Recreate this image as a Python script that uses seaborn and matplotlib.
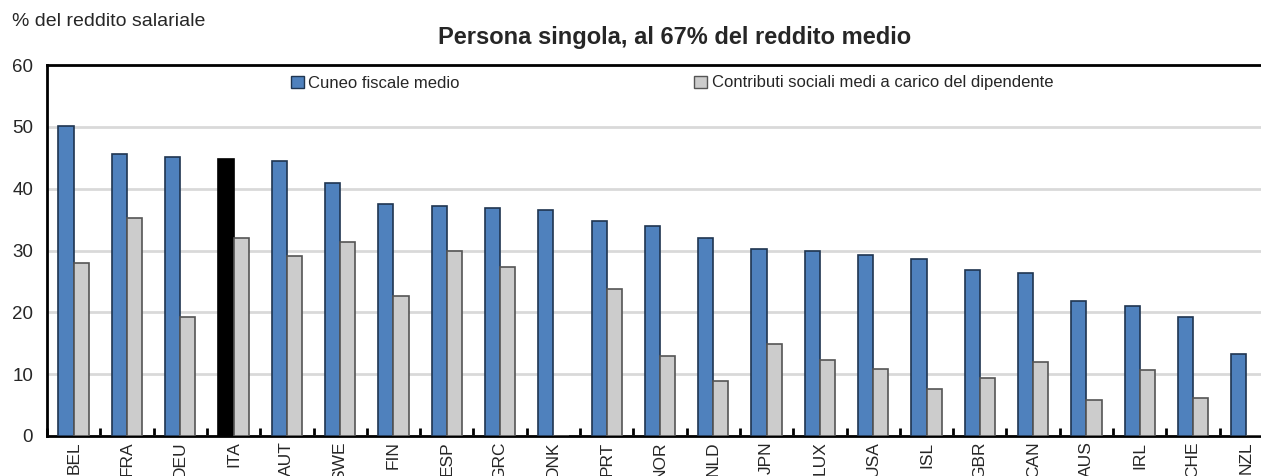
import numpy as np
import pandas as pd
import matplotlib
matplotlib.use("Agg")
import matplotlib.pyplot as plt
import matplotlib.patches as mpatches
from matplotlib.ticker import MultipleLocator
import seaborn as sns

# ── Data ──────────────────────────────────────────────────────
paesi = ["BEL", "FRA", "DEU", "ITA", "AUT", "SWE", "FIN", "ESP", "GRC", "DNK",
         "PRT", "NOR", "NLD", "JPN", "LUX", "USA", "ISL", "GBR", "CAN", "AUS",
         "IRL", "CHE", "NZL"]
cuneo = [50.2, 45.6, 45.2, 44.8, 44.5, 40.9, 37.6, 37.2, 36.8, 36.5,
         34.7, 34.0, 32.1, 30.3, 29.9, 29.2, 28.6, 26.9, 26.3, 21.8,
         21.0, 19.2, 13.2]
contributi = [28.0, 35.3, 19.2, 32.1, 29.1, 31.4, 22.7, 29.9, 27.4, 0.0,
              23.8, 13.0, 8.9, 14.8, 12.3, 10.8, 7.6, 9.4, 11.9, 5.9,
              10.6, 6.2, 0.0]
serie = ["Cuneo fiscale medio", "Contributi sociali medi a carico del dipendente"]
y_ticks = [0, 10, 20, 30, 40, 50, 60]

df = pd.DataFrame({"paese": paesi * 2,
                   "valore": cuneo + contributi,
                   "serie": [serie[0]] * len(paesi) + [serie[1]] * len(paesi)})

BLUE = "#4F81BD"
GREY = "#CCCCCC"

sns.set_style("white")
plt.rcParams["font.family"] = ["Liberation Sans Narrow", "Liberation Sans", "DejaVu Sans"]

fig = plt.figure(figsize=(12.61, 4.76), dpi=100)
ax = fig.add_axes([47 / 1261, 40 / 476, 1226 / 1261, 371 / 476])

ax.yaxis.grid(True, color="#D9D9D9", linewidth=2, zorder=0)
ax.set_axisbelow(True)

sns.barplot(data=df, x="paese", y="valore", hue="serie", order=paesi,
            hue_order=serie, palette=[BLUE, GREY], width=0.57, gap=0,
            saturation=1, legend=False, ax=ax, zorder=3)

for bar in ax.containers[0]:
    bar.set_edgecolor("#1F3550")
    bar.set_linewidth(1.2)
for bar in ax.containers[1]:
    bar.set_edgecolor("#555555")
    bar.set_linewidth(1.2)
ax.containers[0][paesi.index("ITA")].set_facecolor("black")
ax.containers[0][paesi.index("ITA")].set_edgecolor("black")

ax.set_xlim(-0.5, len(paesi) - 0.5)
ax.set_ylim(0, 60)
ax.set_yticks(y_ticks)
ax.set_xlabel("")
ax.set_ylabel("")

ax.tick_params(axis="y", length=0, labelsize=13.5, pad=10)
ax.tick_params(axis="x", which="major", length=0, labelsize=12.5, rotation=90, pad=4)
ax.xaxis.set_minor_locator(MultipleLocator(1, offset=0.5))
ax.tick_params(axis="x", which="minor", bottom=True, direction="in", length=6,
               width=2, color="black")

for side in ["left", "bottom", "top"]:
    ax.spines[side].set_color("black")
    ax.spines[side].set_linewidth(2)
ax.spines["right"].set_visible(False)

fig.text(12 / 1261, 1 - 22 / 476, "% del reddito salariale", fontsize=14,
         ha="left", va="center")
fig.text(675 / 1261, 1 - 38 / 476, "Persona singola, al 67% del reddito medio",
         fontsize=17, fontweight="bold", ha="center", va="center")

h1 = mpatches.Patch(facecolor=BLUE, edgecolor="#1F3550", label=serie[0])
h2 = mpatches.Patch(facecolor=GREY, edgecolor="#555555", label=serie[1])
for h, x in [(h1, 291), (h2, 694)]:
    fig.legend(handles=[h], loc="center left", bbox_to_anchor=(x / 1261, 1 - 83 / 476),
               frameon=False, fontsize=12, handlelength=0.75, handleheight=0.75,
               handletextpad=0.3, borderpad=0, borderaxespad=0)

fig.savefig("out.png", dpi=100)
